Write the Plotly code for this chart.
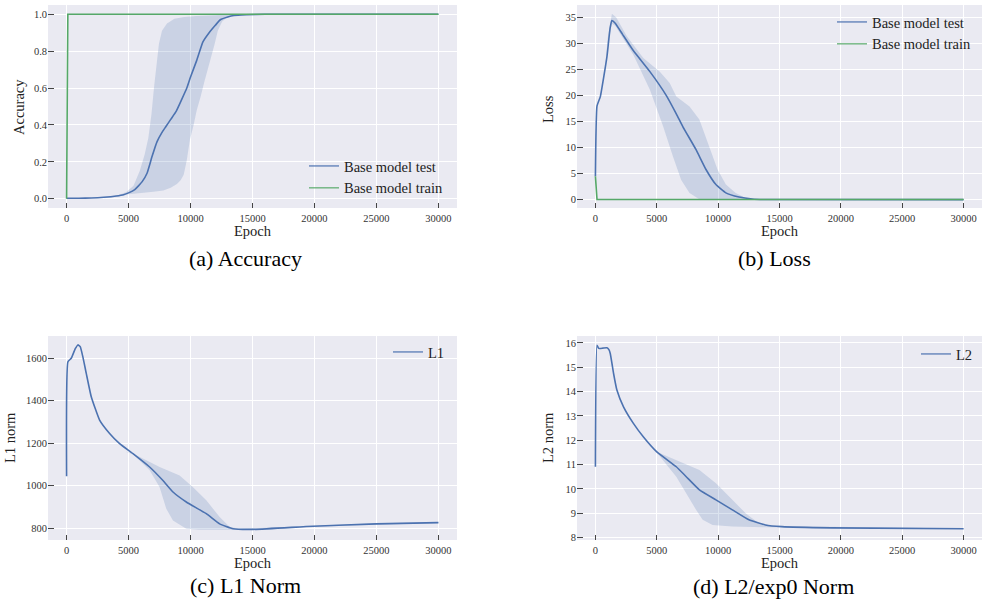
import plotly.graph_objects as go

# ---------------- data ----------------
# (a) Accuracy
acc_test_epoch = [0, 1000, 2000, 3000, 4000, 4600, 5000, 5500, 5800, 6100, 6500, 6900, 7300, 7700, 8000, 8400,
                  8850, 9300, 9700, 10000, 10500, 11000, 11500, 12000, 12400, 13000, 13500, 14500, 16000, 30000]
acc_test = [0.003, 0.003, 0.004, 0.008, 0.015, 0.022, 0.032, 0.05, 0.07, 0.093, 0.14, 0.23, 0.31, 0.36, 0.39, 0.43,
            0.475, 0.54, 0.6, 0.66, 0.75, 0.85, 0.9, 0.94, 0.97, 0.985, 0.993, 0.997, 1.0, 1.0]
acc_up_epoch = [3000, 4000, 4800, 5400, 5900, 6300, 6600, 6850, 7050, 7250, 7450, 7700, 8100, 8700, 9500, 10500,
                12000, 13500, 15000, 30000]
acc_up = [0.008, 0.017, 0.035, 0.07, 0.15, 0.24, 0.33, 0.46, 0.6, 0.73, 0.84, 0.91, 0.95, 0.975, 0.985, 0.99,
          0.995, 0.998, 1.0, 1.0]
acc_lo_epoch = [3000, 4000, 5000, 6000, 7000, 7800, 8400, 8900, 9200, 9450, 9700, 9950, 10250, 10500, 10800, 11100,
                11400, 11650, 11950, 12200, 12550, 13000, 13500, 15000, 30000]
acc_lo = [0.003, 0.01, 0.025, 0.033, 0.038, 0.045, 0.06, 0.08, 0.1, 0.13, 0.21, 0.32, 0.4, 0.48, 0.55, 0.63,
          0.7, 0.77, 0.84, 0.91, 0.96, 0.985, 0.995, 1.0, 1.0]
acc_train_epoch = [0, 100, 30000]
acc_train = [0.0, 1.0, 1.0]

# (b) Loss
loss_test_epoch = [0, 130, 400, 940, 1200, 1345, 1615, 2200, 3100, 4440, 5780, 6590, 7130, 8200, 9010, 9820,
                   10630, 11700, 12780, 14000, 30000]
loss_test = [4.5, 18, 19.8, 27.5, 33, 34.4, 33.9, 31.8, 28.6, 24.6, 20.0, 16.5, 14.0, 9.6, 5.8, 2.9,
             1.3, 0.5, 0.13, 0.02, 0.0]
loss_up_epoch = [800, 1000, 1345, 1700, 2560, 3900, 5250, 6050, 6590, 7670, 8470, 9280, 9950, 10630, 11430,
                 12240, 13000, 14000, 30000]
loss_up = [25.5, 31, 35.7, 35, 31.4, 27.2, 24.6, 22.4, 19.8, 17.9, 15.4, 10.2, 5.8, 2.9, 1.3, 0.3, 0.05, 0.0, 0.0]
loss_lo_epoch = [800, 1000, 1345, 1615, 3100, 4440, 5515, 6320, 6990, 7670, 8470, 9500, 14000, 30000]
loss_lo = [25, 29.5, 33.8, 33.4, 27.8, 21.1, 14.1, 8.3, 3.8, 1.3, 0.1, 0.0, 0.0, 0.0]
loss_train_epoch = [0, 130, 30000]
loss_train = [4.5, 0.05, 0.02]

# (c) L1 norm
l1_epoch = [0, 108, 377, 700, 915, 1100, 1300, 1587, 1990, 2663, 3470, 4278, 5354, 6700, 7776, 8583, 9660,
            11270, 12350, 13425, 15040, 19880, 25000, 30000]
l1 = [1044, 1584, 1600, 1645, 1663, 1655, 1610, 1529, 1419, 1309, 1246, 1198, 1151, 1088, 1024, 970, 923,
      868, 820, 797, 794, 809, 820, 826]
l1_up_epoch = [4800, 5354, 7506, 9120, 10200, 11270, 12350, 13160, 14000, 20000, 25000, 30000]
l1_up = [1160, 1151, 1088, 1048, 993, 931, 852, 805, 797, 812, 823, 828]
l1_lo_epoch = [4800, 5354, 6700, 7500, 8044, 8583, 9660, 10735, 12887, 14000, 20000, 25000, 30000]
l1_lo = [1158, 1149, 1072, 994, 891, 836, 797, 792, 792, 792, 806, 816, 824]

# (d) L2 norm
l2_epoch = [0, 130, 269, 600, 940, 1100, 1210, 1480, 1750, 2290, 3095, 3900, 4980, 6590, 7400, 8475, 9820,
            11160, 12510, 13850, 15200, 19230, 30000]
l2 = [10.91, 15.9, 15.77, 15.78, 15.8, 15.72, 15.56, 14.74, 14.06, 13.37, 12.69, 12.14, 11.53, 10.91, 10.5,
      9.96, 9.55, 9.14, 8.73, 8.52, 8.45, 8.4, 8.36]
l2_up_epoch = [4980, 6590, 8475, 9820, 11160, 12240, 13310, 14500, 30000]
l2_up = [11.53, 11.19, 10.78, 10.23, 9.55, 9.0, 8.59, 8.47, 8.37]
l2_lo_epoch = [4980, 6590, 7400, 8200, 8740, 9550, 11160, 13850, 30000]
l2_lo = [11.5, 10.5, 9.82, 9.14, 8.73, 8.52, 8.45, 8.42, 8.35]

x_ticks = [0, 5000, 10000, 15000, 20000, 25000, 30000]
y_titles = ["Accuracy", "Loss", "L1 norm", "L2 norm"]
captions = ["(a) Accuracy", "(b) Loss", "(c) L1 Norm", "(d) L2/exp0 Norm"]

# ---------------- style ----------------
BLUE = "#4C72B0"
GREEN = "#55A868"
BAND = "rgba(76,114,176,0.2)"
FONT = "Liberation Serif"
W, H = 982, 601

fig = go.Figure()


def band(ax, xu, yu, xl, yl):
    fig.add_trace(go.Scatter(x=xu + xl[::-1], y=yu + yl[::-1], fill="toself", fillcolor=BAND,
                             line=dict(width=0), mode="lines", hoverinfo="skip", showlegend=False,
                             xaxis="x" + ax, yaxis="y" + ax))


def line(ax, x, y, color, name, legend):
    fig.add_trace(go.Scatter(x=x, y=y, mode="lines", line=dict(color=color, width=1.6, shape="spline",
                                                               smoothing=0.4),
                             showlegend=False, xaxis="x" + ax, yaxis="y" + ax))
    # legend sample (lighter, as in the reference)
    fig.add_trace(go.Scatter(x=[None], y=[None], mode="lines", name=name, legend=legend,
                             line=dict(color=color, width=1.6), opacity=0.75,
                             xaxis="x" + ax, yaxis="y" + ax))


band("", acc_up_epoch, acc_up, acc_lo_epoch, acc_lo)
line("", acc_test_epoch, acc_test, BLUE, "Base model test", "legend")
fig.add_trace(go.Scatter(x=acc_train_epoch, y=acc_train, mode="lines", line=dict(color=GREEN, width=1.6),
                         showlegend=False))
fig.add_trace(go.Scatter(x=[None], y=[None], mode="lines", name="Base model train", legend="legend",
                         line=dict(color=GREEN, width=1.6), opacity=0.75))

band("2", loss_up_epoch, loss_up, loss_lo_epoch, loss_lo)
line("2", loss_test_epoch, loss_test, BLUE, "Base model test", "legend2")
fig.add_trace(go.Scatter(x=loss_train_epoch, y=loss_train, mode="lines", line=dict(color=GREEN, width=1.6),
                         showlegend=False, xaxis="x2", yaxis="y2"))
fig.add_trace(go.Scatter(x=[None], y=[None], mode="lines", name="Base model train", legend="legend2",
                         line=dict(color=GREEN, width=1.6), opacity=0.75, xaxis="x2", yaxis="y2"))

band("3", l1_up_epoch, l1_up, l1_lo_epoch, l1_lo)
line("3", l1_epoch, l1, BLUE, "L1", "legend3")

band("4", l2_up_epoch, l2_up, l2_lo_epoch, l2_lo)
line("4", l2_epoch, l2, BLUE, "L2", "legend4")


def px_x(a, b):
    return [a / W, b / W]


def px_y(top, bottom):
    return [1 - bottom / H, 1 - top / H]


tickfont = dict(family=FONT, size=10.5, color="#333333")
titlefont = dict(family=FONT, size=14.5, color="#222222")


def xaxis(dom, anchor):
    return dict(domain=dom, anchor=anchor, range=[-1500, 31500], tickvals=x_ticks, tickformat="d",
                showgrid=True, gridcolor="white", gridwidth=1.2, zeroline=False, automargin=False,
                ticks="inside", ticklen=5, tickcolor="#444444", tickwidth=1, ticklabelstandoff=2,
                tickfont=tickfont, title=dict(text="Epoch", font=titlefont, standoff=1))


def yaxis(dom, anchor, rng, tv, fmt):
    return dict(domain=dom, anchor=anchor, range=rng, tickvals=tv, tickformat=fmt,
                showgrid=True, gridcolor="white", gridwidth=1.2, zeroline=False, automargin=False,
                ticks="inside", ticklen=6, tickcolor="#444444", tickwidth=1, ticklabelstandoff=0,
                tickfont=tickfont)


xa = px_x(48, 457)
xb = px_x(577, 982)
ytop = px_y(5, 208)
ybot = px_y(336, 540)

legfont = dict(family=FONT, size=14.5, color="#222222")
legbase = dict(bgcolor="rgba(0,0,0,0)", font=legfont, xanchor="left", yanchor="top",
               tracegroupgap=0, itemwidth=30)

fig.update_layout(
    width=W, height=H, margin=dict(l=0, r=0, t=0, b=0),
    paper_bgcolor="white", plot_bgcolor="#EAEAF2",
    xaxis=xaxis(xa, "y"),
    yaxis=yaxis(ytop, "x", [-0.05, 1.05], [0, 0.2, 0.4, 0.6, 0.8, 1.0], ".1f"),
    xaxis2=xaxis(xb, "y2"),
    yaxis2=yaxis(ytop, "x2", [-1.6, 37.4], [0, 5, 10, 15, 20, 25, 30, 35], "d"),
    xaxis3=xaxis(xa, "y3"),
    yaxis3=yaxis(ybot, "x3", [744, 1705], [800, 1000, 1200, 1400, 1600], "d"),
    xaxis4=xaxis(xb, "y4"),
    yaxis4=yaxis(ybot, "x4", [7.9, 16.28], [8, 9, 10, 11, 12, 13, 14, 15, 16], "d"),
    legend=dict(legbase, x=304 / W, y=1 - 150 / H),
    legend2=dict(legbase, x=832 / W, y=1 - 6 / H),
    legend3=dict(legbase, x=388 / W, y=1 - 336 / H),
    legend4=dict(legbase, x=916 / W, y=1 - 338 / H),
    showlegend=True,
)

# y-axis titles (rotated)
ytitle_pos = [(19, 107), (548, 109), (10, 438), (548, 438)]
for text, (cx, cy) in zip(y_titles, ytitle_pos):
    fig.add_annotation(text=text, x=cx / W, y=1 - cy / H, xref="paper", yref="paper", textangle=-90,
                       showarrow=False, xanchor="center", yanchor="middle", font=titlefont)

cap_pos = [(245, 258), (774, 258), (245, 585), (773, 586)]
for text, (cx, cy) in zip(captions, cap_pos):
    fig.add_annotation(text=text, x=cx / W, y=1 - cy / H, xref="paper", yref="paper",
                       showarrow=False, xanchor="center", yanchor="middle",
                       font=dict(family=FONT, size=22, color="black"))

fig.write_html("out.html", config={"displayModeBar": False},
               post_script="document.body.style.margin='0';document.body.style.overflow='hidden';")
